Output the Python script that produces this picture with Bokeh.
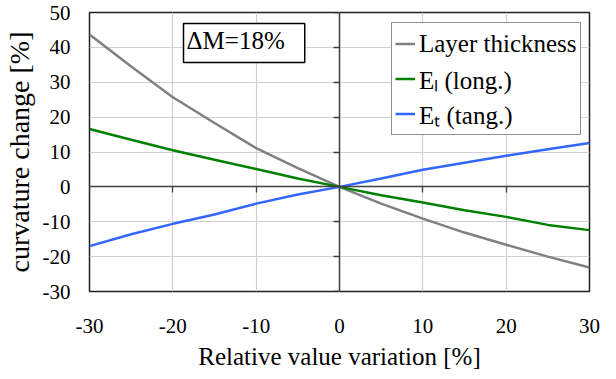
from bokeh.plotting import figure
from bokeh.models import (Range1d, FixedTicker, LinearAxis, Legend, LegendItem,
                          Label)
from bokeh.embed import file_html
from bokeh.resources import INLINE

# ---- data ----
x_vals = [-30, -25, -20, -15, -10, -5, 0, 5, 10, 15, 20, 25, 30]
layer_thickness = [43.7, 34.5, 25.7, 18.3, 11.1, 5.4, 0, -4.8, -9.1, -13.1, -16.6, -20.0, -23.1]
e_long = [16.6, 13.5, 10.5, 7.8, 5.1, 2.4, 0, -2.4, -4.5, -6.7, -8.6, -10.9, -12.4]
e_tang = [-17.0, -13.6, -10.6, -7.9, -4.8, -2.2, 0, 2.4, 4.9, 6.9, 8.9, 10.8, 12.6]
x_ticks = [-30, -20, -10, 0, 10, 20, 30]
y_ticks = [-30, -20, -10, 0, 10, 20, 30, 40, 50]
series_labels = ["Layer thickness", "E\u2097 (long.)", "E\u209c (tang.)"]
annotation_text = "\u0394M=18%"

FONT = "'Liberation Serif', 'Times New Roman', serif"

p = figure(frame_width=500, frame_height=279, output_backend="svg", toolbar_location=None,
           x_range=Range1d(-30, 30), y_range=Range1d(-30, 50),
           min_border_left=84, min_border_right=16, min_border_top=12,
           min_border_bottom=82, x_axis_label="Relative value variation [%]",
           y_axis_label="curvature change [%]")

p.outline_line_color = "#202020"
p.outline_line_width = 1.5
p.background_fill_color = "white"
p.border_fill_color = "white"

for ax, ticks in ((p.xaxis[0], x_ticks), (p.yaxis[0], y_ticks)):
    ax.ticker = FixedTicker(ticks=ticks)
    ax.major_label_overrides = {t: str(t) for t in ticks}
    ax.axis_line_color = None
    ax.major_tick_line_color = None
    ax.minor_tick_line_color = None
    ax.major_tick_out = 0
    ax.major_tick_in = 0
    ax.major_label_text_font = FONT
    ax.major_label_text_font_size = "21px"
    ax.major_label_text_color = "black"
    ax.axis_label_text_font = FONT
    ax.axis_label_text_font_style = "normal"
    ax.axis_label_text_color = "black"

p.xaxis[0].axis_label_text_font_size = "25px"
p.xaxis[0].major_label_standoff = 27
p.xaxis[0].axis_label_standoff = 7
p.yaxis[0].axis_label_text_font_size = "28px"
p.yaxis[0].major_label_standoff = 19
p.yaxis[0].axis_label_standoff = 5

p.xgrid.ticker = FixedTicker(ticks=x_ticks)
p.ygrid.ticker = FixedTicker(ticks=y_ticks)
p.grid.grid_line_color = "#d0d0d0"
p.grid.grid_line_width = 1.2

# zero axes with ticks
zx = LinearAxis(fixed_location=0, ticker=FixedTicker(ticks=x_ticks))
zy = LinearAxis(fixed_location=0, ticker=FixedTicker(ticks=y_ticks))
for ax in (zx, zy):
    ax.axis_line_color = "#404040"
    ax.axis_line_width = 1.5
    ax.major_tick_line_color = "#404040"
    ax.major_tick_line_width = 1.3
    ax.major_tick_in = 0
    ax.major_tick_out = 6
    ax.minor_tick_line_color = None
    ax.major_label_text_font_size = "0px"
    ax.major_label_text_color = None
p.add_layout(zx, "below")
p.add_layout(zy, "left")

colors = ["#808080", "#008000", "#3366ff"]
series = [layer_thickness, e_long, e_tang]
renderers = []
for ys, c in zip(series, colors):
    r = p.line(x_vals, ys, line_color=c, line_width=2.5)
    renderers.append(r)

legend = Legend(items=[LegendItem(label=lab, renderers=[r])
                       for lab, r in zip(series_labels, renderers)],
                location=(302, 156))
legend.label_text_font = FONT
legend.label_text_font_size = "25px"
legend.label_text_color = "black"
legend.glyph_width = 20
legend.glyph_height = 35
legend.label_height = 35
legend.label_standoff = 4
legend.spacing = 0
legend.padding = 3
legend.margin = 0
legend.border_line_color = "#202020"
legend.border_line_width = 1.2
legend.background_fill_alpha = 1
p.add_layout(legend, "center")

lab = Label(x=94, y=229, x_units="screen", y_units="screen", text=annotation_text,
            text_font=FONT, text_font_size="25px", text_color="black",
            border_line_color="black", border_line_width=1.5,
            background_fill_color="white", padding=(3, 20, 3, 9))
p.add_layout(lab)

open("out.html", "w").write(file_html(p, INLINE))
